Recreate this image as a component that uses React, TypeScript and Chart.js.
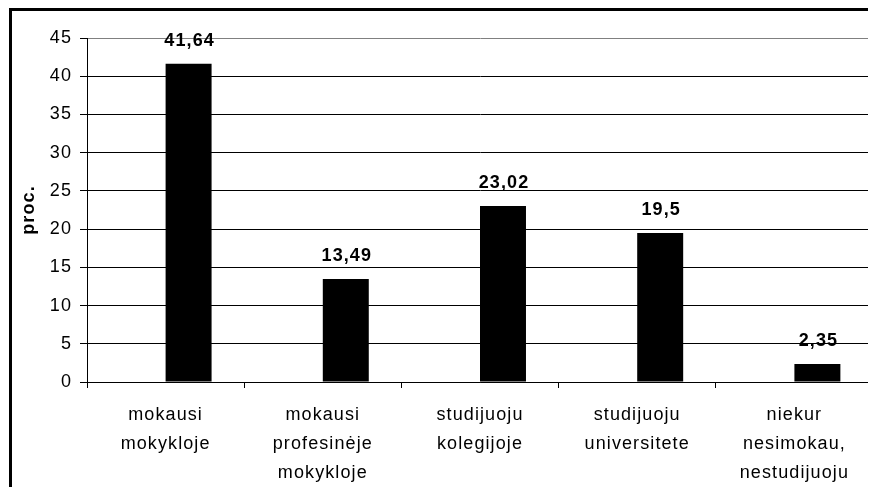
import React, { useEffect, useRef } from "react";
import { Chart, registerables } from "chart.js";

Chart.register(...registerables);

const categories: string[][] = [
  ["mokausi", "mokykloje"],
  ["mokausi", "profesinėje", "mokykloje"],
  ["studijuoju", "kolegijoje"],
  ["studijuoju", "universitete"],
  ["niekur", "nesimokau,", "nestudijuoju"],
];
const values: number[] = [41.64, 13.49, 23.02, 19.5, 2.35];
const yTickMin = 0;
const yTickMax = 45;
const yTickStep = 5;
const yTitle = "proc.";

const FONT = "'Liberation Sans', Arial, sans-serif";
const SPACING = "1.1px";

export default function App() {
  const ref = useRef<HTMLCanvasElement | null>(null);

  useEffect(() => {
    document.documentElement.style.overflow = "hidden";
    document.body.style.overflow = "hidden";
    const canvas = ref.current;
    if (!canvas) return;

    const spacingPlugin = {
      id: "spacing",
      beforeDraw(chart: any) {
        try {
          chart.ctx.letterSpacing = SPACING;
        } catch (e) {}
      },
    };

    const decorPlugin = {
      id: "decor",
      afterDatasetsDraw(chart: any) {
        const { ctx } = chart;
        const meta = chart.getDatasetMeta(1);
        ctx.save();
        try {
          ctx.letterSpacing = SPACING;
        } catch (e) {}
        ctx.font = `bold 18px ${FONT}`;
        ctx.fillStyle = "#000";
        ctx.textAlign = "center";
        ctx.textBaseline = "alphabetic";
        meta.data.forEach((bar: any, i: number) => {
          const txt = String(values[i]).replace(".", ",");
          ctx.fillText(txt, bar.x + 1, bar.y - 18);
        });
        ctx.restore();
      },
      afterDraw(chart: any) {
        const { ctx, chartArea, width, height } = chart;
        ctx.save();
        ctx.strokeStyle = "#808080";
        ctx.lineWidth = 2;
        ctx.beginPath();
        ctx.moveTo(chartArea.right + 1, chartArea.top);
        ctx.lineTo(chartArea.right + 1, chartArea.bottom);
        ctx.stroke();
        ctx.fillStyle = "#000";
        ctx.fillRect(1, 0, 3, height);
        ctx.fillRect(1, 0, width - 1, 3);
        ctx.restore();
      },
    };

    const chart = new Chart(canvas, {
      type: "bar",
      data: {
        labels: categories,
        datasets: [
          {
            label: "",
            data: [],
            backgroundColor: "#000",
          },
          {
            label: "proc.",
            data: values,
            backgroundColor: "#000",
            borderWidth: 0,
          },
        ],
      },
      options: {
        responsive: false,
        animation: false,
        devicePixelRatio: 1,
        layout: { padding: { left: 0, top: 30, right: 3, bottom: 0 } },
        datasets: {
          bar: { barPercentage: 1, categoryPercentage: 0.585 },
        },
        plugins: {
          legend: { display: false },
          tooltip: { enabled: false },
          title: { display: false },
        },
        scales: {
          x: {
            type: "category",
            offset: true,
            grid: {
              offset: true,
              drawOnChartArea: false,
              drawTicks: true,
              tickLength: 6,
              color: "#000",
              tickColor: "#000",
            },
            border: { display: true, color: "#000", width: 1 },
            ticks: {
              autoSkip: false,
              maxRotation: 0,
              minRotation: 0,
              padding: 12,
              color: "#000",
              font: { family: FONT, size: 18, lineHeight: 1.62 },
            },
            afterFit(scale: any) {
              scale.height = 105;
            },
          },
          y: {
            min: yTickMin,
            max: yTickMax,
            ticks: {
              stepSize: yTickStep,
              padding: 8,
              color: "#000",
              font: { family: FONT, size: 18 },
            },
            grid: {
              drawOnChartArea: true,
              drawTicks: true,
              tickLength: 7,
              color: (c: any) =>
                c.tick && c.tick.value === yTickMax ? "#808080" : "#000",
              tickColor: "#000",
            },
            border: { display: true, color: "#000", width: 1 },
            title: {
              display: true,
              text: yTitle,
              color: "#000",
              font: { family: FONT, size: 18, weight: "bold" },
              padding: { top: 10, bottom: 0 },
            },
            afterFit(scale: any) {
              scale.width = 79;
            },
          },
        },
      },
      plugins: [spacingPlugin, decorPlugin],
    } as any);

    return () => chart.destroy();
  }, []);

  return (
    <div style={{ width: 868, height: 479 }}>
      <canvas ref={ref} width={868} height={479} style={{ display: "block" }} />
    </div>
  );
}
